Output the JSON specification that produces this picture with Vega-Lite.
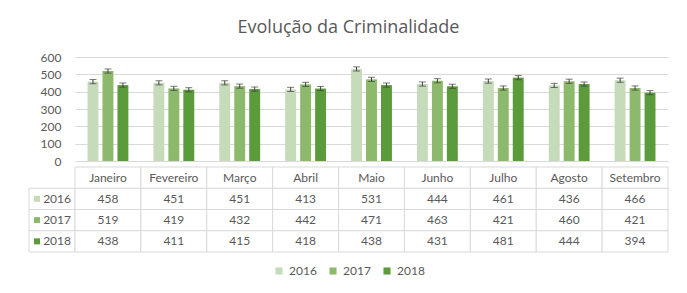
{
  "$schema": "https://vega.github.io/schema/vega-lite/v6.json",
  "background": "white",
  "padding": {"left": 28, "top": 19, "right": 18, "bottom": 6},
  "title": {"text": "Evolução da Criminalidade", "font": "Open Sans", "fontSize": 18, "fontWeight": "normal", "color": "#595959", "anchor": "middle", "offset": 14},
  "config": {
    "font": "Lato",
    "view": {"stroke": null},
    "text": {"font": "Lato", "fontSize": 12, "color": "#595959"},
    "axisY": {"title": null, "tickCount": 6, "labelOverlap": false, "domain": false, "ticks": false, "gridColor": "#d9d9d9", "labelColor": "#595959", "labelFontSize": 12, "labelFont": "Lato", "labelPadding": 14},
    "legend": {"orient": "bottom", "direction": "horizontal", "title": null, "labelFont": "Lato", "labelFontSize": 12, "labelColor": "#595959", "symbolType": "square", "symbolSize": 50, "symbolStrokeWidth": 0, "columnPadding": 10, "offset": 12, "layout": {"bottom": {"anchor": "middle"}}}
  },
  "datasets": {
    "vals": [
      {"mes": "Janeiro", "ano": "2016", "v": 458, "lo": 446, "hi": 470},
      {"mes": "Fevereiro", "ano": "2016", "v": 451, "lo": 439, "hi": 463},
      {"mes": "Março", "ano": "2016", "v": 451, "lo": 439, "hi": 463},
      {"mes": "Abril", "ano": "2016", "v": 413, "lo": 401, "hi": 425},
      {"mes": "Maio", "ano": "2016", "v": 531, "lo": 519, "hi": 543},
      {"mes": "Junho", "ano": "2016", "v": 444, "lo": 432, "hi": 456},
      {"mes": "Julho", "ano": "2016", "v": 461, "lo": 449, "hi": 473},
      {"mes": "Agosto", "ano": "2016", "v": 436, "lo": 424, "hi": 448},
      {"mes": "Setembro", "ano": "2016", "v": 466, "lo": 454, "hi": 478},
      {"mes": "Janeiro", "ano": "2017", "v": 519, "lo": 507, "hi": 531},
      {"mes": "Fevereiro", "ano": "2017", "v": 419, "lo": 407, "hi": 431},
      {"mes": "Março", "ano": "2017", "v": 432, "lo": 420, "hi": 444},
      {"mes": "Abril", "ano": "2017", "v": 442, "lo": 430, "hi": 454},
      {"mes": "Maio", "ano": "2017", "v": 471, "lo": 459, "hi": 483},
      {"mes": "Junho", "ano": "2017", "v": 463, "lo": 451, "hi": 475},
      {"mes": "Julho", "ano": "2017", "v": 421, "lo": 409, "hi": 433},
      {"mes": "Agosto", "ano": "2017", "v": 460, "lo": 448, "hi": 472},
      {"mes": "Setembro", "ano": "2017", "v": 421, "lo": 409, "hi": 433},
      {"mes": "Janeiro", "ano": "2018", "v": 438, "lo": 426, "hi": 450},
      {"mes": "Fevereiro", "ano": "2018", "v": 411, "lo": 399, "hi": 423},
      {"mes": "Março", "ano": "2018", "v": 415, "lo": 403, "hi": 427},
      {"mes": "Abril", "ano": "2018", "v": 418, "lo": 406, "hi": 430},
      {"mes": "Maio", "ano": "2018", "v": 438, "lo": 426, "hi": 450},
      {"mes": "Junho", "ano": "2018", "v": 431, "lo": 419, "hi": 443},
      {"mes": "Julho", "ano": "2018", "v": 481, "lo": 469, "hi": 493},
      {"mes": "Agosto", "ano": "2018", "v": 444, "lo": 432, "hi": 456},
      {"mes": "Setembro", "ano": "2018", "v": 394, "lo": 382, "hi": 406}
    ],
    "meses": [
      {"mes": "Janeiro"}, {"mes": "Fevereiro"}, {"mes": "Março"}, {"mes": "Abril"}, {"mes": "Maio"},
      {"mes": "Junho"}, {"mes": "Julho"}, {"mes": "Agosto"}, {"mes": "Setembro"}
    ],
    "anos": [{"ano": "2016"}, {"ano": "2017"}, {"ano": "2018"}]
  },
  "resolve": {"scale": {"x": "independent", "y": "independent", "color": "shared"}},
  "spacing": -6,
  "vconcat": [
    {
      "spacing": 0,
      "bounds": "flush",
      "resolve": {"scale": {"x": "independent", "y": "independent", "color": "shared"}},
      "hconcat": [
        {
          "width": 46,
          "height": 104,
          "data": {"values": []},
          "mark": {"type": "point", "opacity": 0}
        },
        {
          "width": 593,
          "height": 104,
          "data": {"name": "vals"},
          "encoding": {
            "x": {"field": "mes", "type": "nominal", "axis": null,
                  "scale": {"domain": ["Janeiro", "Fevereiro", "Março", "Abril", "Maio", "Junho", "Julho", "Agosto", "Setembro"], "paddingInner": 0.38, "paddingOuter": 0.19}},
            "xOffset": {"field": "ano", "type": "nominal", "scale": {"paddingInner": 0.27, "paddingOuter": 0}}
          },
          "layer": [
            {
              "mark": {"type": "bar"},
              "encoding": {
                "y": {"field": "v", "type": "quantitative", "title": null, "scale": {"domain": [0, 600], "nice": false}},
                "color": {"field": "ano", "type": "nominal",
                          "scale": {"domain": ["2016", "2017", "2018"], "range": ["#c6dbb9", "#8cb96b", "#5c9b3b"]}}
              }
            },
            {
              "mark": {"type": "rule", "color": "#404040", "strokeWidth": 1},
              "encoding": {
                "y": {"field": "lo", "type": "quantitative", "title": null},
                "y2": {"field": "hi"}
              }
            },
            {
              "mark": {"type": "tick", "color": "#404040", "thickness": 1, "size": 7, "orient": "horizontal"},
              "encoding": {"y": {"field": "lo", "type": "quantitative", "title": null}}
            },
            {
              "mark": {"type": "tick", "color": "#404040", "thickness": 1, "size": 7, "orient": "horizontal"},
              "encoding": {"y": {"field": "hi", "type": "quantitative", "title": null}}
            }
          ]
        }
      ]
    },
    {
      "spacing": 0,
      "bounds": "flush",
      "resolve": {"scale": {"x": "independent", "y": "independent", "color": "shared"}},
      "hconcat": [
        {
          "width": 46,
          "height": 85,
          "data": {"name": "anos"},
          "encoding": {
            "y": {"field": "ano", "type": "nominal", "axis": null,
                  "scale": {"domain": ["hdr", "2016", "2017", "2018"], "paddingInner": 0, "paddingOuter": 0}}
          },
          "layer": [
            {
              "mark": {"type": "rect", "fill": "white", "stroke": "#d9d9d9", "strokeWidth": 1},
              "encoding": {
                "x": {"datum": 0, "type": "quantitative", "scale": {"domain": [0, 46], "nice": false}, "axis": null},
                "x2": {"datum": 46}
              }
            },
            {
              "mark": {"type": "square", "size": 36, "opacity": 1},
              "encoding": {
                "x": {"datum": 8, "type": "quantitative"},
                "color": {"field": "ano", "type": "nominal"}
              }
            },
            {
              "mark": {"type": "text", "align": "right", "baseline": "middle"},
              "encoding": {
                "x": {"datum": 42, "type": "quantitative"},
                "text": {"field": "ano"}
              }
            }
          ]
        },
        {
          "width": 593,
          "height": 85,
          "encoding": {
            "x": {"field": "mes", "type": "nominal", "axis": null,
                  "scale": {"domain": ["Janeiro", "Fevereiro", "Março", "Abril", "Maio", "Junho", "Julho", "Agosto", "Setembro"], "paddingInner": 0, "paddingOuter": 0}}
          },
          "layer": [
            {
              "data": {"name": "vals"},
              "mark": {"type": "rect", "fill": "white", "stroke": "#d9d9d9", "strokeWidth": 1},
              "encoding": {
                "y": {"field": "ano", "type": "nominal", "axis": null,
                      "scale": {"domain": ["hdr", "2016", "2017", "2018"], "paddingInner": 0, "paddingOuter": 0}}
              }
            },
            {
              "data": {"name": "meses"},
              "mark": {"type": "rect", "fill": "white", "stroke": "#d9d9d9", "strokeWidth": 1},
              "encoding": {"y": {"datum": "hdr", "type": "nominal"}}
            },
            {
              "data": {"name": "vals"},
              "mark": {"type": "text", "baseline": "middle"},
              "encoding": {
                "y": {"field": "ano", "type": "nominal"},
                "text": {"field": "v", "type": "quantitative"}
              }
            },
            {
              "data": {"name": "meses"},
              "mark": {"type": "text", "baseline": "middle"},
              "encoding": {
                "y": {"datum": "hdr", "type": "nominal"},
                "text": {"field": "mes"}
              }
            }
          ]
        }
      ]
    }
  ]
}
